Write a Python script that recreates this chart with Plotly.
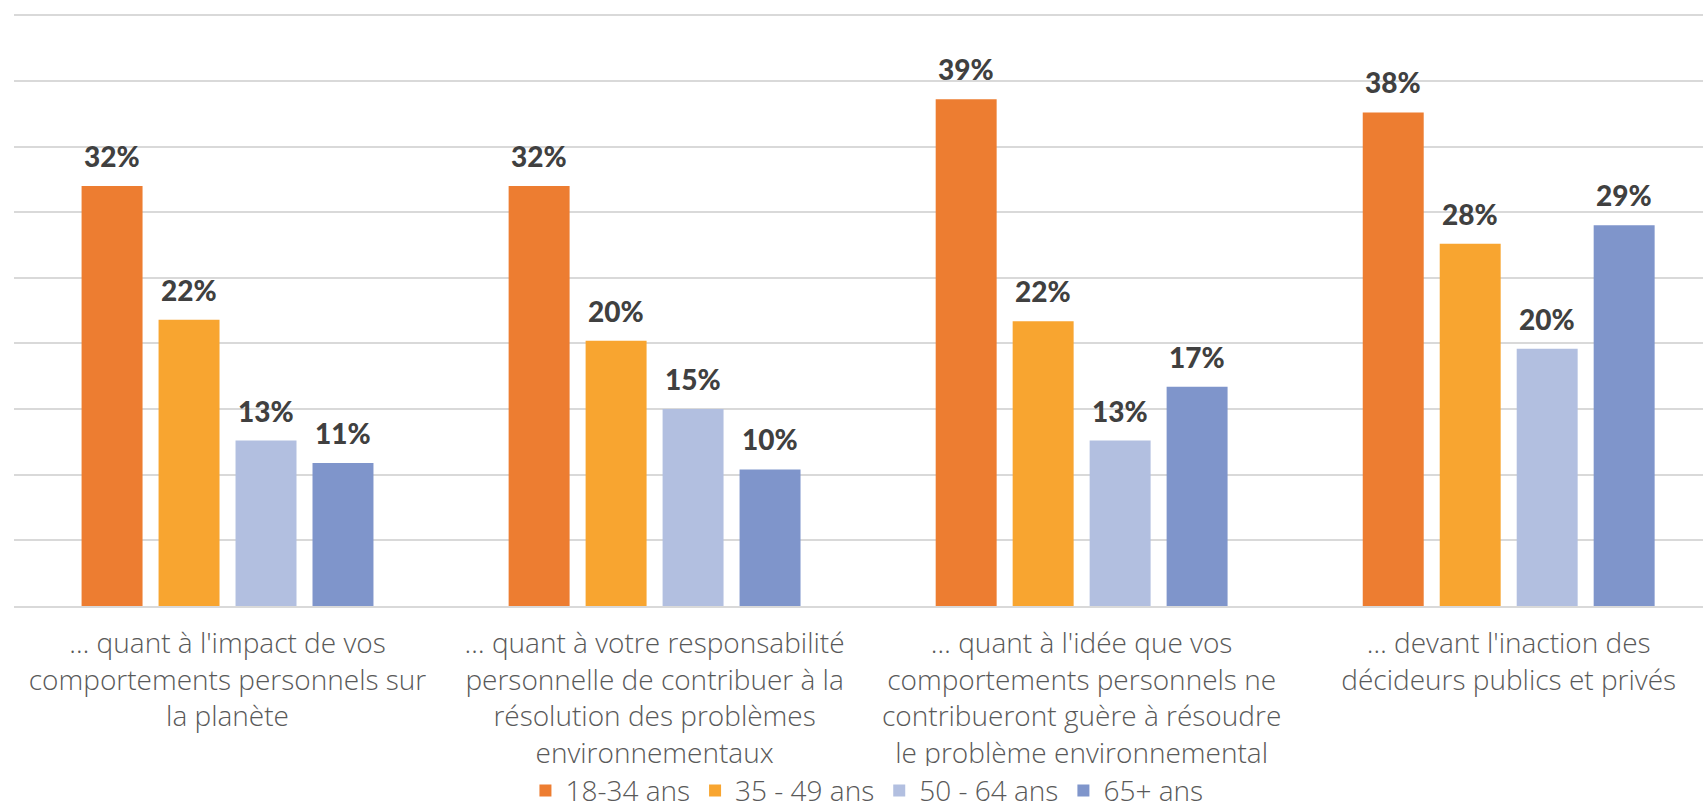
import plotly.graph_objects as go

categories = [
    "… quant à l'impact de vos<br>comportements personnels sur<br>la planète",
    "… quant à votre responsabilité<br>personnelle de contribuer à la<br>résolution des problèmes<br>environnementaux",
    "… quant à l'idée que vos<br>comportements personnels ne<br>contribueront guère à résoudre<br>le problème environnemental",
    "… devant l'inaction des<br>décideurs publics et privés",
]
series_names = ["18-34 ans", "35 - 49 ans", "50 - 64 ans", "65+ ans"]
v_18_34 = [32.0, 32.0, 38.6, 37.6]
v_35_49 = [21.8, 20.2, 21.7, 27.6]
v_50_64 = [12.6, 15.0, 12.6, 19.6]
v_65p = [10.9, 10.4, 16.7, 29.0]
series_values = [v_18_34, v_35_49, v_50_64, v_65p]
colors = ["#ED7D31", "#F8A530", "#B2BFE0", "#7F95CB"]

W, H = 1703, 812
ML, MR, MT, MB = 14, 0, 14, 206
BARGAP = 0.279
BARGROUPGAP = 0.208
XRANGE = [-0.5, 3.455]
YRANGE = [0, 45.1]

TXT_FONT = dict(family="Open Sans", size=28, color="#595959", weight=300)

fig = go.Figure()
for name, vals, col in zip(series_names, series_values, colors):
    fig.add_trace(go.Bar(
        x=categories, y=vals, name=name,
        marker=dict(color=col, line=dict(width=0)),
        hoverinfo="skip",
    ))

# value labels above bars, placed through data axes
plot_w = W - ML - MR
unit_px = plot_w / (XRANGE[1] - XRANGE[0])
slot_px = unit_px * (1 - BARGAP) / len(series_names)
annotations = []
for i, vals in enumerate(series_values):
    xs = (i - (len(series_names) - 1) / 2) * slot_px
    for c, v in zip(categories, vals):
        annotations.append(dict(
            x=c, y=v, xref="x", yref="y", text=f"{round(v)}%",
            showarrow=False, xanchor="center", yanchor="bottom",
            xshift=xs, yshift=11,
            font=dict(family="Lato", size=28, color="#404040", weight=900),
        ))

fig.update_layout(
    width=W, height=H,
    margin=dict(l=ML, r=MR, t=MT, b=MB, autoexpand=False),
    paper_bgcolor="white", plot_bgcolor="white",
    barmode="group", bargap=BARGAP, bargroupgap=BARGROUPGAP,
    font=TXT_FONT,
    showlegend=True,
    legend=dict(orientation="h", x=0.505, xanchor="center", y=-0.312, yanchor="middle",
                font=TXT_FONT, traceorder="normal"),
    annotations=annotations,
)
fig.update_xaxes(
    type="category", range=XRANGE, showgrid=False,
    showline=True, linecolor="#D9D9D9", linewidth=1.5,
    ticks="", tickfont=TXT_FONT, tickangle=0, ticklabelstandoff=12,
)
fig.update_yaxes(
    range=YRANGE, dtick=5, tick0=0, showticklabels=False,
    showgrid=True, gridcolor="#D9D9D9", gridwidth=1.5,
    zeroline=False, showline=False,
)

fig.write_html("out.html", config={"displayModeBar": False},
               post_script="document.body.style.margin='0';")
